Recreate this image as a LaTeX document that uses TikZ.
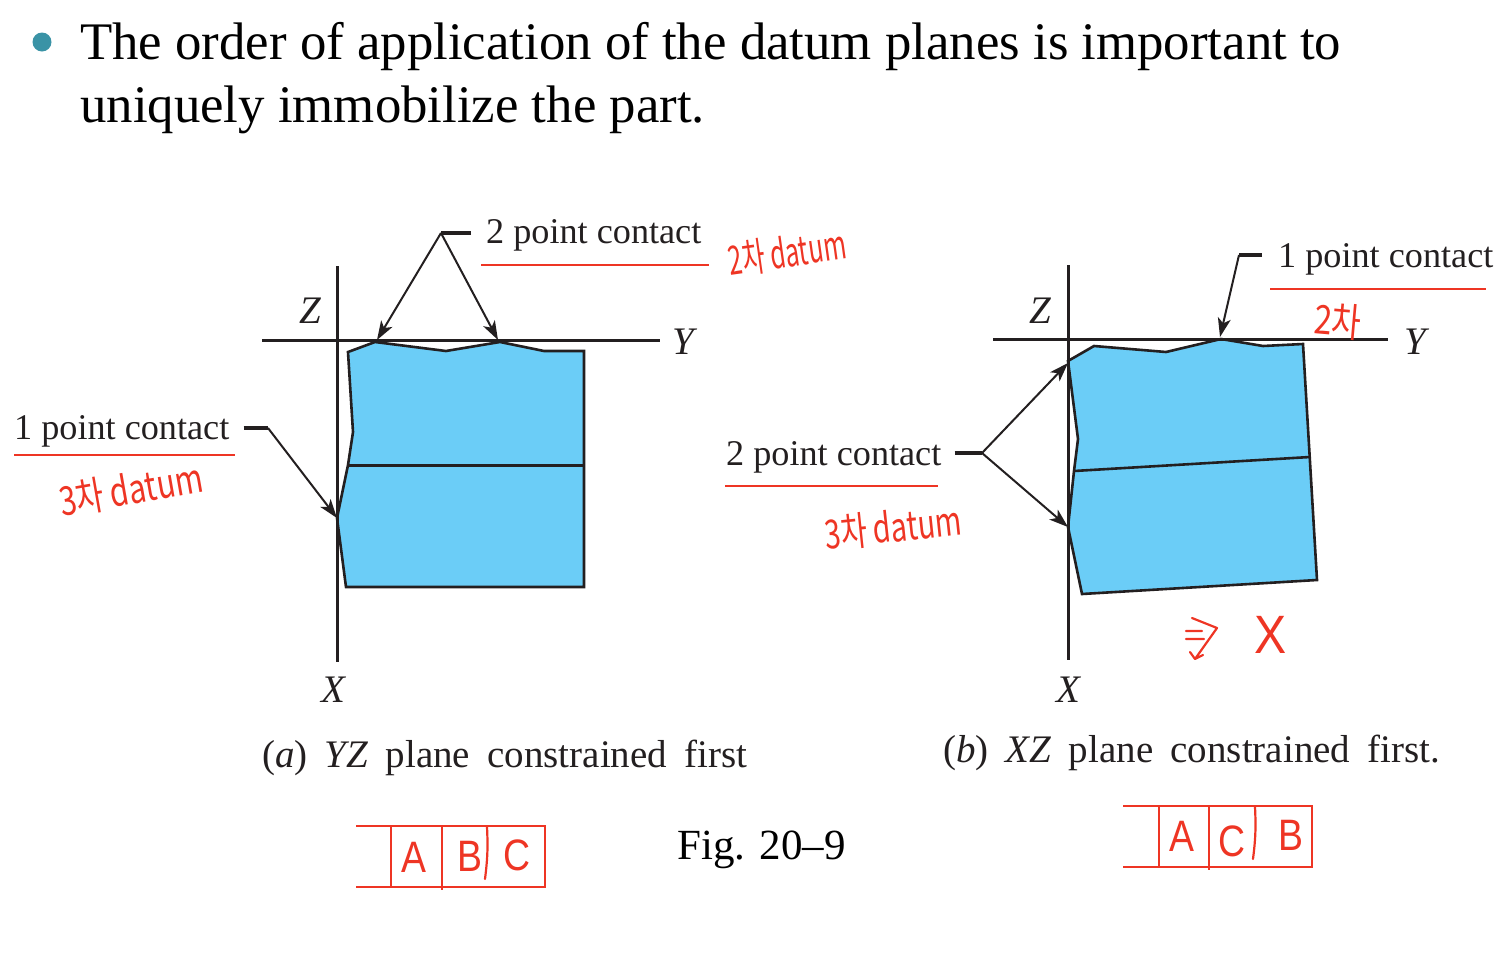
\documentclass[tikz,border=0pt]{standalone}
\usepackage{fontspec}
\usepackage{tikz}
\usetikzlibrary{arrows.meta}
\setmainfont{Liberation Serif}
\newfontfamily\handfont{Noto Sans CJK KR}
\newfontfamily\thinfont{Liberation Sans}
\definecolor{partblue}{HTML}{6BCDF7}
\definecolor{penred}{HTML}{EE3524}
\definecolor{bullet}{HTML}{3A93A6}
\definecolor{ink}{HTML}{231F20}
\newcommand{\capfont}{\fontsize{39}{39}\selectfont\spaceskip=17.2pt\relax}
\tikzset{
  contact/.style={inner sep=0pt, text=ink, font=\fontsize{36.2}{36}\selectfont},
  axislabel/.style={inner sep=0pt, text=ink, font=\fontsize{39}{39}\selectfont\itshape},
  caption/.style={inner sep=0pt, text=ink, font=\capfont},
  axisline/.style={ink, line width=3pt},
  partline/.style={ink, line width=2.6pt},
  leader/.style={ink, line width=2pt, -{Stealth[length=19pt, width=13pt, inset=5pt]}},
  stub/.style={ink, line width=3.2pt},
  redline/.style={penred, line width=1.9pt},
  boxline/.style={penred, line width=2.2pt},
  handtext/.style={inner sep=0pt, text=penred, font=\handfont\fontsize{40}{40}\selectfont},
  boxletter/.style={inner sep=0pt, text=penred, xscale=.85, font=\thinfont\fontsize{44}{44}\selectfont},
}
\begin{document}
\begin{tikzpicture}[x=1pt, y=-1pt]
    \useasboundingbox (0,0) rectangle (1505,978);
    % Texto superior
    \fill[bullet] (42,42) circle (9.5);
    \node[inner sep=0pt, anchor=base west, align=left, font=\fontsize{52.8}{63}\selectfont] (title) at (80,122)
        {The order of application of the datum planes is important to\\uniquely immobilize the part.};

    % Pieza (a)
    \draw[partline, fill=partblue] (348,352) -- (375,342) -- (446,351) -- (500,342) -- (544,351)
        -- (584,351) -- (584,587) -- (346,587) -- (337,518) -- (348,465) -- (353,432) -- cycle;
    \draw[axisline] (348,465) -- (584,465);
    \draw[axisline] (337,266) -- (337,662);
    \draw[axisline] (262,340) -- (660,340);
    \node[axislabel] (Za) at (310,311) {Z};
    \node[axislabel] (Ya) at (683,342) {Y};
    \node[axislabel] (Xa) at (333,690) {X};

    % Contactos (a)
    \node[contact, anchor=west] (twoA) at (486,235) {2 point contact};
    \node[contact, anchor=west] (oneA) at (14,431) {1 point contact};
    \coordinate (apexA) at (441,233);
    \coordinate (elbowA) at (268,428);
    \coordinate (hitA1) at (377,340);
    \coordinate (hitA2) at (498,340);
    \coordinate (hitA3) at (337,518);
    \draw[stub] ([xshift=-15pt]twoA.west |- apexA) -- (apexA);
    \draw[leader] (apexA) -- (hitA1);
    \draw[leader] (apexA) -- (hitA2);
    \draw[stub] ([xshift=14pt]oneA.east |- elbowA) -- (elbowA);
    \draw[leader] (elbowA) -- (hitA3);

    % Pieza (b)
    \draw[partline, fill=partblue] (1068,361) -- (1094,346) -- (1166,352) -- (1221,339) -- (1263,346)
        -- (1303,344) -- (1317,580) -- (1082,594) -- (1068,527) -- (1074,471) -- (1078,439) -- cycle;
    \draw[partline] (1074,471) -- (1310,457);
    \draw[axisline] (1068,265) -- (1068,660);
    \draw[axisline] (993,339) -- (1388,339);
    \node[axislabel] (Zb) at (1040,311) {Z};
    \node[axislabel] (Yb) at (1415,342) {Y};
    \node[axislabel] (Xb) at (1068,690) {X};

    % Contactos (b)
    \node[contact, anchor=west] (oneB) at (1278,259) {1 point contact};
    \node[contact, anchor=west] (twoB) at (726,457) {2 point contact};
    \coordinate (elbowB) at (1239,255);
    \coordinate (apexB) at (982,453);
    \coordinate (hitB1) at (1220,337);
    \coordinate (hitB2) at (1068,363);
    \coordinate (hitB3) at (1068,527);
    \draw[stub] ([xshift=-16pt]oneB.west |- elbowB) -- (elbowB);
    \draw[leader] (elbowB) -- (hitB1);
    \draw[stub] ([xshift=13pt]twoB.east |- apexB) -- (apexB);
    \draw[leader] (apexB) -- (hitB2);
    \draw[leader] (apexB) -- (hitB3);

    % Pies de figura
    \node[caption, anchor=base west] (capA) at (262,767) {(\textit{a}) \textit{YZ} plane constrained first};
    \node[caption, anchor=base west] (capB) at (943,762) {(\textit{b}) \textit{XZ} plane constrained first.};
    \node[inner sep=0pt, anchor=base west, font=\fontsize{43}{43}\selectfont] (fig) at (677,859) {Fig. 20--9};

    % Notas en rojo
    \draw[redline] (481,265) -- (709,265);
    \draw[redline] (14,455) -- (235,455);
    \draw[redline] (1270,289) -- (1486,289);
    \draw[redline] (725,486) -- (938,486);
    \node[handtext, rotate=8, xscale=.62] (noteA) at (787,252) {2차 datum};
    \node[handtext, rotate=10, xscale=.76] (noteB) at (131,489) {3차 datum};
    \node[handtext, rotate=-5, xscale=.8] (noteC) at (1338,321) {2차};
    \node[handtext, rotate=6, xscale=.72] (noteD) at (893,527) {3차 datum};
    \draw[penred, line width=2.2pt, line cap=round, line join=round] (1192,618) -- (1217,628) -- (1195,659)
        (1195,659) -- (1190,652) (1195,659) -- (1203,655)
        (1186,631) -- (1202,631) (1186,639) -- (1204,639);
    \node[boxletter, xscale=1.05, font=\thinfont\fontsize{54}{54}\selectfont] (cross) at (1271,635) {X};

    % Marcos de datum
    \draw[boxline] (356,826) -- (545,826) -- (545,887) -- (356,887);
    \draw[boxline] (391,826) -- (391,887) (442,826) -- (442,890);
    \draw[boxline, line cap=round] (487,827) to[bend left=5] (485,879);
    \node[boxletter] (dA1) at (414,857) {A};
    \node[boxletter] (dA2) at (470,856) {B};
    \node[boxletter] (dA3) at (517,855) {C};
    \draw[boxline] (1123,806) -- (1312,806) -- (1312,867) -- (1123,867);
    \draw[boxline] (1159,806) -- (1159,867) (1209,806) -- (1209,870);
    \draw[boxline, line cap=round] (1255,807) to[bend left=5] (1253,859);
    \node[boxletter] (dB1) at (1182,836) {A};
    \node[boxletter] (dB2) at (1232,841) {C};
    \node[boxletter] (dB3) at (1291,835) {B};
\end{tikzpicture}
\end{document}
